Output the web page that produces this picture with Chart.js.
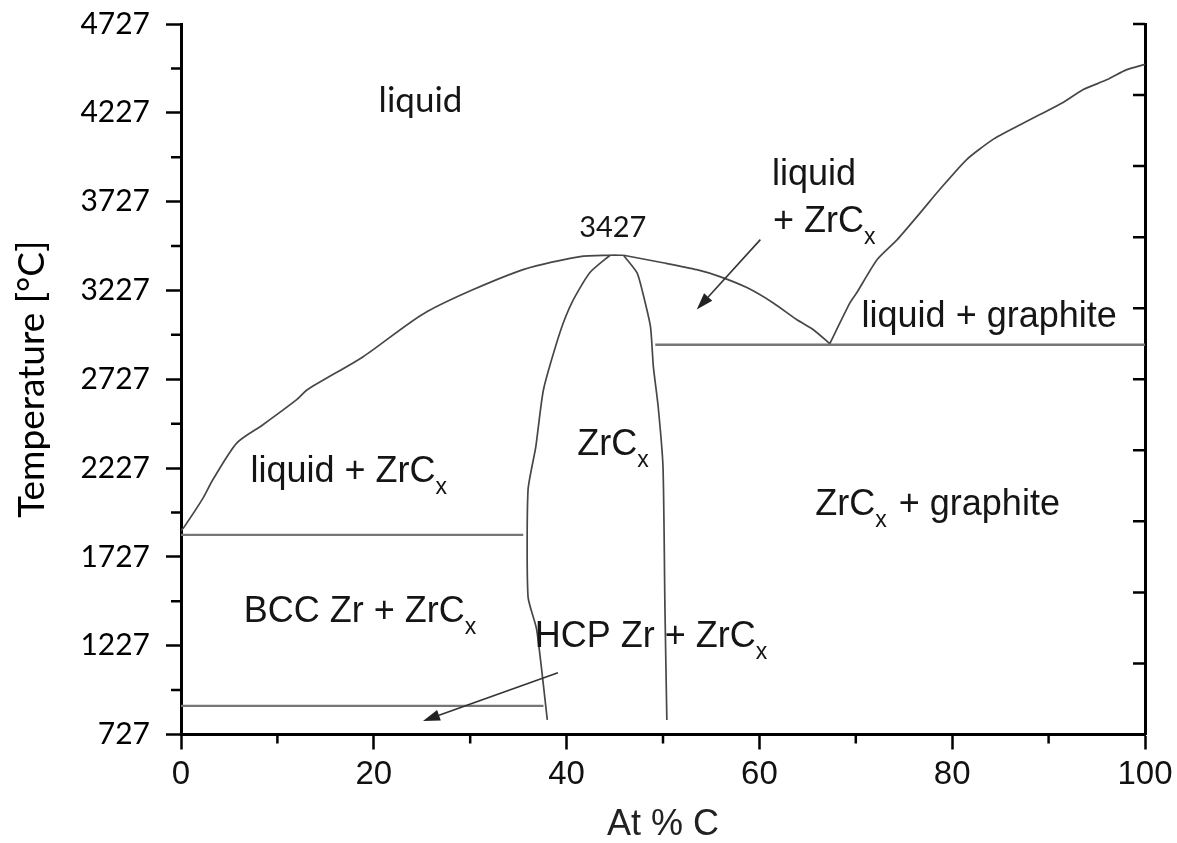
<!DOCTYPE html>
<html>
<head>
<meta charset="utf-8">
<title>Zr-C phase diagram</title>
<script src="https://cdn.jsdelivr.net/npm/chart.js@4.4.0/dist/chart.umd.min.js"></script>
<style>
html,body{margin:0;padding:0;background:#fff;}
#wrap{width:1177px;height:843px;}
</style>
</head>
<body>
<div id="wrap"><canvas id="phaseChart" width="1177" height="843"></canvas></div>
<script>
/* ===============================
        Data (At % C , Temperature °C)
================================ */

// tick values
const xMajor = [0, 20, 40, 60, 80, 100];
const xMinor = [10, 30, 50, 70, 90];
const yMajor = [727, 1227, 1727, 2227, 2727, 3227, 3727, 4227, 4727];
const yMinor = [977, 1477, 1977, 2477, 2977, 3477, 3977, 4477];
const yRight = [727, 1127, 1527, 1927, 2327, 2727, 3127, 3527, 3927, 4327, 4727];

// liquidus, Zr side up to congruent melting of ZrCx
const liqZrX = [0, 0.3, 2.3, 3.3, 5.8, 8.5, 12.0, 13.1, 18.9, 25.5, 34.9, 41.4, 44.5, 45.9];
const liqZrT = [1875, 1893, 2059, 2161, 2369, 2471, 2612, 2668, 2854, 3107, 3333, 3417, 3425, 3425];

// liquidus, ZrCx down to the ZrCx / graphite eutectic
const liqZrcX = [45.9, 50.0, 53.5, 55.9, 58.7, 61.4, 63.9, 65.6, 67.3];
const liqZrcT = [3425, 3383, 3344, 3305, 3243, 3158, 3062, 3006, 2927];

// liquidus, graphite side
const liqCX = [67.3, 69.4, 70.1, 72.2, 74.3, 76.7, 78.7, 81.5, 84.2, 86.7, 89.1, 91.5, 93.6, 96.1, 98.1, 100];
const liqCT = [2927, 3158, 3214, 3400, 3513, 3665, 3795, 3964, 4076, 4150, 4217, 4285, 4358, 4414, 4470, 4500];

// ZrCx phase boundaries
const zrcLoX = [44.5, 42.4, 40.6, 39.3, 37.6, 36.8, 36.0, 36.0, 36.9, 38.0];
const zrcLoT = [3425, 3327, 3164, 2989, 2668, 2345, 2104, 1502, 1316, 809];
const zrcHiX = [45.9, 47.3, 47.9, 48.7, 49.0, 49.5, 50.0, 50.2, 50.4];
const zrcHiT = [3425, 3327, 3214, 3023, 2798, 2572, 2234, 1445, 809];

// invariant lines
const eutZrX = [0, 35.5];
const eutZrT = [1851, 1851];
const eutoidX = [0, 37.6];
const eutoidT = [888, 888];
const eutCX = [49.2, 100];
const eutCT = [2921, 2921];

// arrows: tail -> head
const arrowTailX = [60.1, 39.1];
const arrowTailT = [3513, 1074];
const arrowHeadX = [53.5, 25.1];
const arrowHeadT = [3119, 803];

// phase labels (x, T at baseline)
const phaseLabels = [
  {parts:[{t:"liquid"}], x:20.5, T:4229, font:"Lato", size:35},
  {parts:[{t:"3427"}], x:41.3, T:3530, font:"Lato", size:29},
  {parts:[{t:"liquid"}], x:61.3, T:3823},
  {parts:[{t:"+ ZrC"},{t:"x",sub:true}], x:61.4, T:3558},
  {parts:[{t:"liquid + graphite"}], x:70.6, T:3023},
  {parts:[{t:"ZrC"},{t:"x",sub:true}], x:41.1, T:2302},
  {parts:[{t:"liquid + ZrC"},{t:"x",sub:true}], x:7.2, T:2150},
  {parts:[{t:"ZrC"},{t:"x",sub:true},{t:" + graphite"}], x:65.8, T:1964},
  {parts:[{t:"BCC Zr + ZrC"},{t:"x",sub:true}], x:6.5, T:1361},
  {parts:[{t:"HCP Zr + ZrC"},{t:"x",sub:true}], x:36.7, T:1220}
];


const pts = (xs, ts) => xs.map((v, i) => ({x: v, y: ts[i]}));

const curve = (xs, ts, color, width, tension) => ({
  data: pts(xs, ts),
  showLine: true,
  pointRadius: 0,
  borderColor: color,
  borderWidth: width,
  tension: tension,
  fill: false
});


/* ===============================
        Decorations plugin
================================ */

const phaseDecor = {
  id: "phaseDecor",

  afterDatasetsDraw(chart){
    const {ctx, scales:{x, y}} = chart;

    // arrows
    ctx.save();
    ctx.strokeStyle = "#333";
    ctx.fillStyle = "#222";
    ctx.lineWidth = 1.6;
    arrowTailX.forEach((tx, i) => {
      const x1 = x.getPixelForValue(tx), y1 = y.getPixelForValue(arrowTailT[i]);
      const x2 = x.getPixelForValue(arrowHeadX[i]), y2 = y.getPixelForValue(arrowHeadT[i]);
      const a = Math.atan2(y2 - y1, x2 - x1);
      const len = 17, half = 5.5;
      const bx = x2 - len * Math.cos(a), by = y2 - len * Math.sin(a);
      ctx.beginPath();
      ctx.moveTo(x1, y1);
      ctx.lineTo(bx, by);
      ctx.stroke();
      ctx.beginPath();
      ctx.moveTo(x2, y2);
      ctx.lineTo(bx + half * Math.sin(a), by - half * Math.cos(a));
      ctx.lineTo(bx - half * Math.sin(a), by + half * Math.cos(a));
      ctx.closePath();
      ctx.fill();
    });

    // labels
    ctx.fillStyle = "#151515";
    ctx.textBaseline = "alphabetic";
    ctx.textAlign = "left";
    phaseLabels.forEach(lb => {
      const size = lb.size || 36;
      const fam = lb.font || "'Liberation Sans', Arial, sans-serif";
      let cx = x.getPixelForValue(lb.x);
      const cy = y.getPixelForValue(lb.T);
      lb.parts.forEach(p => {
        const s = p.sub ? 23 : size;
        ctx.font = s + "px " + fam;
        ctx.fillText(p.t, cx, p.sub ? cy + 12 : cy);
        cx += ctx.measureText(p.t).width + (p.sub ? 2 : 0);
      });
    });
    ctx.restore();
  },

  afterDraw(chart){
    const {ctx, chartArea:{left, right, bottom}, scales:{x, y, y2}} = chart;
    ctx.save();
    ctx.strokeStyle = "#000";
    ctx.lineWidth = 2.5;
    ctx.beginPath();
    // minor ticks left
    yMinor.forEach(v => {
      const p = y.getPixelForValue(v);
      ctx.moveTo(left - 10, p);
      ctx.lineTo(left, p);
    });
    // minor ticks bottom
    xMinor.forEach(v => {
      const p = x.getPixelForValue(v);
      ctx.moveTo(p, bottom);
      ctx.lineTo(p, bottom + 9);
    });
    // inward ticks right
    yRight.forEach(v => {
      const p = y2.getPixelForValue(v);
      ctx.moveTo(right - 12, p);
      ctx.lineTo(right, p);
    });
    ctx.stroke();
    ctx.restore();
  }
};


/* ===============================
        Chart
================================ */

new Chart(
document.getElementById("phaseChart"),
{
  type: "scatter",

  data: {
    datasets: [
      curve(liqZrX, liqZrT, "#474747", 1.7, 0.25),
      curve(liqZrcX, liqZrcT, "#474747", 1.7, 0.25),
      curve(liqCX, liqCT, "#474747", 1.7, 0.2),
      curve(zrcLoX, zrcLoT, "#474747", 1.7, 0.2),
      curve(zrcHiX, zrcHiT, "#474747", 1.7, 0.2),
      curve(eutZrX, eutZrT, "#767676", 2.4, 0),
      curve(eutoidX, eutoidT, "#767676", 2.4, 0),
      curve(eutCX, eutCT, "#767676", 2.4, 0)
    ]
  },

  options: {
    responsive: false,
    animation: false,
    layout: { padding: { top: 24, left: 0, right: 0, bottom: 0 } },

    plugins: {
      legend: { display: false },
      tooltip: { enabled: false }
    },

    scales: {
      x: {
        type: "linear",
        position: "bottom",
        min: 0,
        max: 100,
        afterBuildTicks: s => { s.ticks = xMajor.map(v => ({value: v})); },
        afterFit: s => { s.height = 108.5; s.paddingLeft = 0; s.paddingRight = 0; },
        ticks: {
          autoSkip: false,
          maxRotation: 0,
          color: "#111",
          padding: 6,
          callback: v => String(v),
          font: { family: "'Liberation Sans', Arial, sans-serif", size: 33 }
        },
        grid: {
          drawOnChartArea: false,
          drawTicks: true,
          tickLength: 15,
          tickWidth: 2.5,
          tickColor: "#000"
        },
        border: { color: "#000", width: 3 },
        title: {
          display: true,
          text: "At % C",
          color: "#222",
          padding: { top: 0, bottom: 0 },
          font: { family: "'Liberation Sans', Arial, sans-serif", size: 36, lineHeight: 1.0 }
        }
      },

      y: {
        type: "linear",
        position: "left",
        min: 727,
        max: 4727,
        afterBuildTicks: s => { s.ticks = yMajor.map(v => ({value: v})); },
        afterFit: s => { s.width = 181; s.paddingTop = 0; s.paddingBottom = 0; },
        ticks: {
          autoSkip: false,
          color: "#000",
          padding: 16,
          callback: v => String(v),
          font: { family: "Lato, sans-serif", size: 30 }
        },
        grid: {
          drawOnChartArea: false,
          drawTicks: true,
          tickLength: 15,
          tickWidth: 2.5,
          tickColor: "#000"
        },
        border: { color: "#000", width: 3 },
        title: {
          display: true,
          text: "Temperature [°C]",
          color: "#000",
          padding: { top: 10, bottom: 0 },
          font: { family: "Lato, sans-serif", size: 37 }
        }
      },

      y2: {
        type: "linear",
        position: "right",
        min: 727,
        max: 4727,
        afterBuildTicks: s => { s.ticks = yRight.map(v => ({value: v})); },
        afterFit: s => { s.width = 32; s.paddingTop = 0; s.paddingBottom = 0; },
        ticks: { display: false },
        grid: { display: false, drawTicks: false },
        border: { color: "#000", width: 3 }
      }
    }
  },

  plugins: [phaseDecor]
}
);
</script>
</body>
</html>
